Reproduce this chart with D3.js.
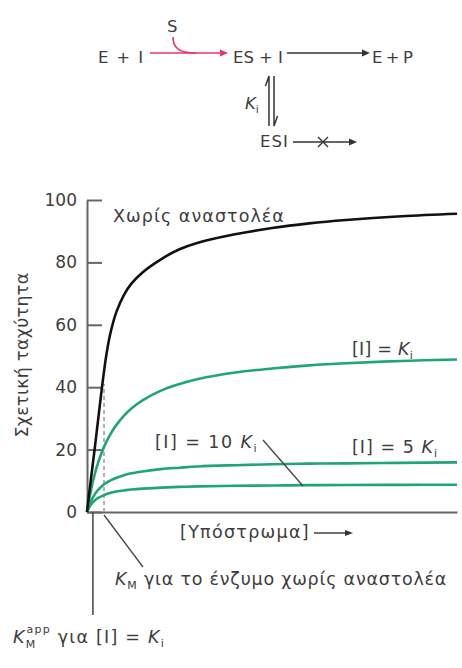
<!DOCTYPE html>
<html><head><meta charset="utf-8">
<script src="https://cdn.jsdelivr.net/npm/d3@7"></script>
<style>
html,body{margin:0;padding:0;background:#fff;}
svg text{font-family:"DejaVu Sans","Open Sans",sans-serif;fill:#3d3d3d;}
</style></head><body>
<svg id="chart" width="462" height="668"></svg>
<script>
// ---- data ----
const substrate   = [0,1,2,3,4,5,6,7,8,10,12,15,20,25,30,40,50,60,70,85,100];
const noInhibitor = [0,10,19.5,29.5,39.5,48.5,55.5,60.5,64.3,69.6,73.2,76.8,81,84.2,86.3,89,91,92.5,93.6,94.8,95.6];
const inhibKi     = [0,6.6,11.7,15.8,19.1,21.9,24.2,26.3,28,30.9,33.2,35.8,38.9,41,42.6,44.7,46,47,47.7,48.4,48.9];
const inhib5Ki    = [0,3.3,5.5,7.1,8.25,9.2,9.9,10.5,11,11.8,12.4,13,13.75,14.2,14.6,15,15.3,15.5,15.6,15.75,15.9];
const inhib10Ki   = [0,2.25,3.6,4.5,5.1,5.6,6,6.3,6.55,6.9,7.2,7.5,7.8,8.05,8.2,8.4,8.5,8.6,8.65,8.7,8.75];
const yTicks      = [0,20,40,60,80,100];
const kmValue     = 4.6;   // K_M without inhibitor (substrate units)
const kmTopValue  = 41;    // top of dashed K_M marker (velocity)
const kmAppValue  = 1.6;   // K_M^app for [I] = K_i

const svg = d3.select("#chart");
const x = d3.scaleLinear().domain([0,100]).range([87,457]);
const y = d3.scaleLinear().domain([0,100]).range([512,200]);
const green = "#1fa676", pink = "#e8336f", axisCol = "#666";
const FS = 17.5, SUB = 11;

// stretch text to the width it has in the reference
function fit(t, w){
  const node = t.node();
  const cur = node.getComputedTextLength();
  const n = node.textContent.length;
  t.attr("letter-spacing", ((w - cur) / n).toFixed(2));
  return t;
}
function fitWords(t, w){
  const node = t.node();
  const cur = node.getComputedTextLength();
  const n = (node.textContent.match(/ /g) || []).length || 1;
  t.attr("word-spacing", ((w - cur) / n).toFixed(2));
  return t;
}
function txt(g, xx, yy, s, w, words, size){
  const t = g.append("text").attr("x",xx).attr("y",yy).attr("font-size",size || FS).text(s);
  if (w) (words ? fitWords : fit)(t, w);
  return t;
}

// ---- top reaction scheme ----
const scheme = svg.append("g");
const TS = 16.5;
txt(scheme,98,63,"E + I",45,true,TS);
txt(scheme,233,63,"ES + I",50,true,TS);
txt(scheme,372,63,"E + P",41,true,TS);
txt(scheme,167,32,"S",null,false,TS);
txt(scheme,260,147,"ESI",29,false,TS);
const ki = scheme.append("text").attr("x",245).attr("y",109).attr("font-size",TS);
ki.append("tspan").attr("font-style","italic").text("K");
ki.append("tspan").attr("font-size",SUB).attr("dy",4).text("i");

function arrow(g, x1, x2, yy, col){
  g.append("line").attr("x1",x1).attr("x2",x2-6).attr("y1",yy).attr("y2",yy)
    .attr("stroke",col).attr("stroke-width",1.6);
  g.append("path").attr("d",`M${x2},${yy} L${x2-8},${yy-3.5} L${x2-8},${yy+3.5} Z`).attr("fill",col);
}
arrow(scheme,150,228,53,pink);
scheme.append("path").attr("d","M173,37 C173,48 179,53 196,53").attr("fill","none")
  .attr("stroke",pink).attr("stroke-width",1.6);
arrow(scheme,287,370,53,"#333");
arrow(scheme,293,357,142,"#333");
scheme.append("path").attr("d","M318,137 L328,147 M328,137 L318,147").attr("stroke","#333").attr("stroke-width",1.4);
// equilibrium half-arrows
scheme.append("path").attr("d","M269,126 L269,76 L265.5,86").attr("fill","none").attr("stroke","#333").attr("stroke-width",1.5);
scheme.append("path").attr("d","M274,76 L274,126 L277.5,116").attr("fill","none").attr("stroke","#333").attr("stroke-width",1.5);

// ---- axes ----
const yAxis = d3.axisLeft(y).tickValues(yTicks).tickSizeInner(-15).tickSizeOuter(0).tickPadding(10);
const gy = svg.append("g").attr("transform",`translate(${x(0)},0)`).call(yAxis);
gy.select(".domain").attr("stroke",axisCol).attr("stroke-width",2);
gy.selectAll(".tick line").attr("stroke",axisCol).attr("stroke-width",2);
gy.selectAll(".tick text").attr("font-size",17).attr("fill","#444")
  .style("font-family","'DejaVu Sans',sans-serif");

const xAxis = d3.axisBottom(x).tickValues([]).tickSizeOuter(0);
const gx = svg.append("g").attr("transform",`translate(0,${y(0)})`).call(xAxis);
gx.select(".domain").attr("stroke",axisCol).attr("stroke-width",2);

// ---- K_M markers ----
svg.append("line").attr("x1",x(kmValue)).attr("x2",x(kmValue)).attr("y1",y(0)).attr("y2",y(kmTopValue))
  .attr("stroke","#999").attr("stroke-width",1.5).attr("stroke-dasharray","4,3");
svg.append("line").attr("x1",x(kmAppValue)).attr("x2",x(kmAppValue)).attr("y1",y(0)).attr("y2",615)
  .attr("stroke","#444").attr("stroke-width",1.5);
svg.append("line").attr("x1",x(kmValue)).attr("x2",143).attr("y1",y(0)+3).attr("y2",567)
  .attr("stroke","#444").attr("stroke-width",1.3);

// ---- curves ----
const line = d3.line().x((d,i)=>x(substrate[i])).y(d=>y(d)).curve(d3.curveCatmullRom.alpha(0.5));
[[inhib10Ki,green],[inhib5Ki,green],[inhibKi,green],[noInhibitor,"#111"]].forEach(([vals,col])=>{
  svg.append("path").datum(vals).attr("d",line).attr("fill","none")
    .attr("stroke",col).attr("stroke-width",2.6);
});

// ---- labels ----
txt(svg,113,222,"Χωρίς αναστολέα",172);
function kiLabel(xx, yy, prefix, w){
  const t = svg.append("text").attr("x",xx).attr("y",yy).attr("font-size",FS);
  t.append("tspan").text(prefix);
  t.append("tspan").attr("font-style","italic").text("K");
  t.append("tspan").attr("font-size",SUB).attr("dy",4).text("i");
  return fit(t, w);
}
kiLabel(352,355,"[I] = ",61);
kiLabel(352,453,"[I] = 5 ",86);
kiLabel(155,448,"[I] = 10 ",103);
svg.append("line").attr("x1",263).attr("y1",440).attr("x2",303).attr("y2",486)
  .attr("stroke","#444").attr("stroke-width",1.3);

// y axis title
const yt = svg.append("text").attr("transform","translate(28,355) rotate(-90)").attr("text-anchor","middle")
  .attr("font-size",FS).text("Σχετική ταχύτητα");
fit(yt,165);

// x axis title
txt(svg,180,538,"[Υπόστρωμα]",130);
svg.append("line").attr("x1",314).attr("x2",346).attr("y1",533).attr("y2",533).attr("stroke","#333").attr("stroke-width",1.4);
svg.append("path").attr("d","M353,533 L345,530 L345,536 Z").attr("fill","#333");

// K_M label
const km = svg.append("text").attr("x",115).attr("y",585).attr("font-size",FS);
km.append("tspan").attr("font-style","italic").text("K");
km.append("tspan").attr("font-size",SUB).attr("dy",4).text("M");
km.append("tspan").attr("dy",-4).text(" για το ένζυμο χωρίς αναστολέα");
fit(km,332);

// K_M^app label
const kapp = svg.append("text").attr("x",13).attr("y",643).attr("font-size",FS);
kapp.append("tspan").attr("font-style","italic").text("K");
kapp.append("tspan").attr("font-size",SUB).attr("dy",5).text("M");
kapp.append("tspan").attr("font-size",SUB).attr("dx",-10).attr("dy",-15).text("app");
kapp.append("tspan").attr("dy",10).text(" για [I] = ");
kapp.append("tspan").attr("font-style","italic").text("K");
kapp.append("tspan").attr("font-size",SUB).attr("dy",4).text("i");
fit(kapp,162);
</script></body></html>
